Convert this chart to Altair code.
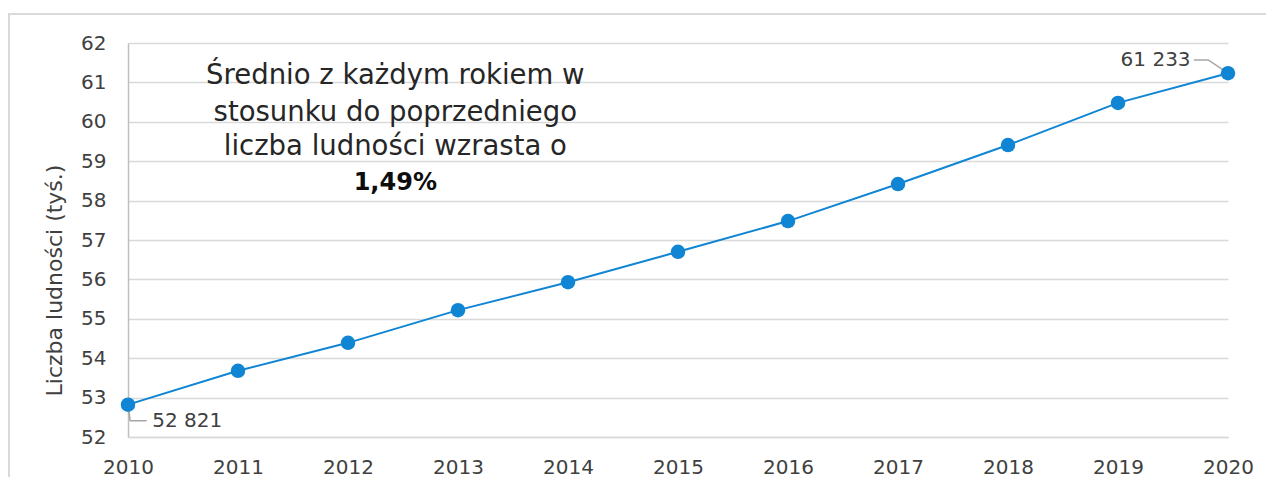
import altair as alt
import pandas as pd

years = [2010, 2011, 2012, 2013, 2014, 2015, 2016, 2017, 2018, 2019, 2020]
population = [52.821, 53.68, 54.39, 55.22, 55.93, 56.70, 57.48, 58.42, 59.41, 60.48, 61.233]
end_labels = ["52 821", "61 233"]
note_lines = ["Średnio z każdym rokiem w", "stosunku do poprzedniego", "liczba ludności wzrasta o"]
note_bold = "1,49%"
y_ticks = [52, 53, 54, 55, 56, 57, 58, 59, 60, 61, 62]

FONT = "DejaVu Sans"
BLUE = "#0f85d3"

df = pd.DataFrame({"year": years, "pop": population})

xs = alt.X("year:Q", scale=alt.Scale(domain=[2010, 2020], nice=False),
           axis=alt.Axis(values=years, format="d", title=None, grid=False, ticks=False,
                         labelFlush=False, labelPadding=20,
                         domainColor="#d9d9d9", domainWidth=1.5))
ys = alt.Y("pop:Q", scale=alt.Scale(domain=[52, 62], nice=False, zero=False),
           axis=alt.Axis(values=y_ticks, title="Liczba ludności (tyś.)", ticks=False,
                         labelPadding=22, labelOverlap=False, labelFlush=False,
                         titleX=-62, titleY=237,
                         gridColor="#d9d9d9", gridWidth=1.5,
                         domainColor="#bfbfbf", domainWidth=1.5))

base = alt.Chart(df)
line = base.mark_line(color=BLUE, strokeWidth=2).encode(x=xs, y=ys)
pts = base.mark_point(filled=True, color=BLUE, size=210, opacity=1).encode(x=xs, y=ys)

# light frame around the whole figure (decoration)
frame = alt.Chart(pd.DataFrame({"a": [0]})).mark_rect(
    fill=None, stroke="#d9d9d9", strokeWidth=2, clip=False).encode(
    x=alt.value(-119), x2=alt.value(1200), y=alt.value(-29), y2=alt.value(520))

# leader lines for end labels
lead_df = pd.DataFrame({
    "g": ["a", "a", "a", "b", "b", "b"],
    "o": [0, 1, 2, 0, 1, 2],
    "year": [2010.0, 2010.02, 2010.17, 2020.0, 2019.82, 2019.69],
    "pop": [52.821, 52.41, 52.41, 61.233, 61.57, 61.57],
})
leaders = alt.Chart(lead_df).mark_line(color="#a6a6a6", strokeWidth=1.5).encode(
    x=xs, y=ys, detail="g:N", order="o:Q")

lab_df = pd.DataFrame({"year": [2010.22, 2019.66], "pop": [52.41, 61.57], "t": end_labels})
lab_left = alt.Chart(lab_df.iloc[[0]]).mark_text(align="left", baseline="middle", fontSize=20,
                                                 font=FONT, color="#404040").encode(
    x=xs, y=ys, text="t:N")
lab_right = alt.Chart(lab_df.iloc[[1]]).mark_text(align="right", baseline="middle", fontSize=20,
                                                  font=FONT, color="#404040").encode(
    x=xs, y=ys, text="t:N")

note_df = pd.DataFrame({"year": [2012.43] * 3, "pop": [61.16, 60.22, 59.36], "t": note_lines})
note = alt.Chart(note_df).mark_text(align="center", baseline="middle", fontSize=27.5, font=FONT,
                                    color="#262626").encode(x=xs, y=ys, text="t:N")
bold_df = pd.DataFrame({"year": [2012.43], "pop": [58.45], "t": [note_bold]})
bold = alt.Chart(bold_df).mark_text(align="center", baseline="middle", fontSize=24, font=FONT,
                                    fontWeight="bold", color="#0d0d0d").encode(
    x=xs, y=ys, text="t:N")

chart = alt.layer(frame, line, leaders, pts, lab_left, lab_right, note, bold).properties(
    width=1100, height=394,
    autosize=alt.AutoSizeParams(type="none"),
    padding={"left": 120, "top": 35, "right": 38, "bottom": 40},
).configure_view(stroke=None).configure_axis(
    labelFont=FONT, labelFontSize=20, labelColor="#404040",
    titleFont=FONT, titleFontSize=22, titleColor="#404040", titleFontWeight="normal",
)

chart.save("out.html", embed_options={"renderer": "svg", "actions": False})
